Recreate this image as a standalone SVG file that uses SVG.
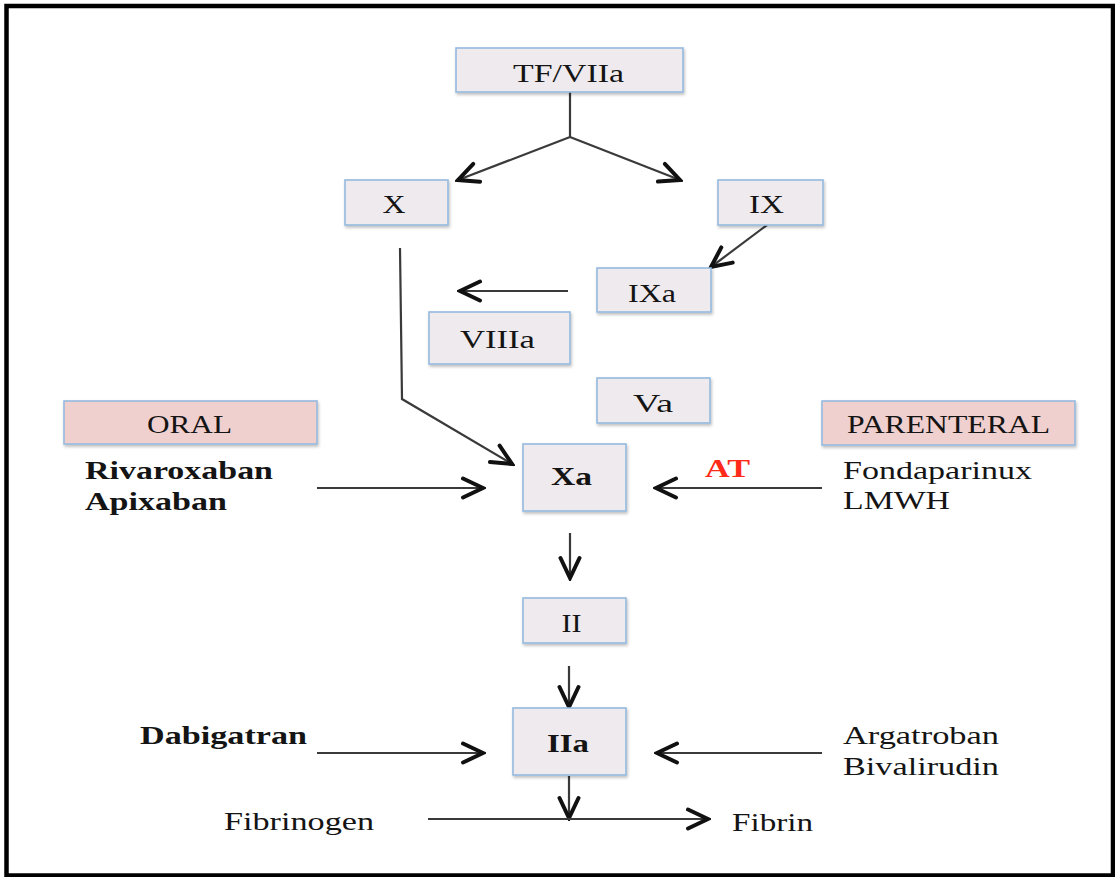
<svg xmlns="http://www.w3.org/2000/svg" width="1115" height="877" viewBox="0 0 1115 877">
<style>
.box{fill:#EEEAEE;stroke:#95BADF;stroke-width:1.6;filter:url(#sh)}
.pink{fill:#F0CFCF;stroke:#95BADF;stroke-width:1.6;filter:url(#sh)}
.t{font-family:"Liberation Serif","Times New Roman",serif;font-size:25px;fill:#141414}
.b{font-weight:bold}
.c{text-anchor:middle}
.ln{fill:none;stroke:#3a3a3a;stroke-width:2.2;marker-end:url(#ah)}
.ln0{fill:none;stroke:#3a3a3a;stroke-width:2.2}
</style>
<defs>
<filter id="sh" x="-10%" y="-10%" width="130%" height="140%">
<feDropShadow dx="1" dy="2" stdDeviation="1.5" flood-color="#000" flood-opacity="0.25"/>
</filter>
<marker id="ah" markerUnits="userSpaceOnUse" viewBox="0 0 26 24" markerWidth="26" markerHeight="24" refX="23" refY="12" orient="auto">
<path d="M3,2.5 L23,12 L3,21.5" fill="none" stroke="#111" stroke-width="4" stroke-linecap="round" stroke-linejoin="miter"/>
</marker>
</defs>
<rect x="6.5" y="6" width="1106.5" height="869.5" fill="#fff" stroke="#000" stroke-width="4.5"/>

<g id="connectors">
<path class="ln0" d="M570,92 L570,137"/>
<path class="ln" d="M570,137 L458,180"/>
<path class="ln" d="M570,137 L680,180"/>
<path class="ln" d="M767,225 L711,267"/>
<path class="ln" d="M568,291 L460,291"/>
<path class="ln" d="M400,248 L402,399 L512,464"/>
<path class="ln" d="M317,488 L483,488"/>
<path class="ln" d="M822,488 L656,488"/>
<path class="ln" d="M570,533 L570,578"/>
<path class="ln" d="M569,666 L569,707"/>
<path class="ln" d="M317,753 L483,753"/>
<path class="ln" d="M822,753 L657,753"/>
<path class="ln" d="M569,776 L569,818"/>
<path class="ln" d="M428,819 L708,819"/>
</g>

<g id="node-tfviia"><rect class="box" x="456" y="48" width="227" height="44"/><text class="t c" x="568.5" y="82" textLength="111" lengthAdjust="spacingAndGlyphs">TF/VIIa</text></g>
<g id="node-x"><rect class="box" x="345" y="180" width="103" height="45"/><text class="t c" x="394" y="213" textLength="23" lengthAdjust="spacingAndGlyphs">X</text></g>
<g id="node-ix"><rect class="box" x="718" y="180" width="105" height="45"/><text class="t c" x="766.5" y="213" textLength="35" lengthAdjust="spacingAndGlyphs">IX</text></g>
<g id="node-ixa"><rect class="box" x="597" y="268" width="114" height="44"/><text class="t c" x="652" y="302" textLength="48" lengthAdjust="spacingAndGlyphs">IXa</text></g>
<g id="node-viiia"><rect class="box" x="429" y="312" width="141" height="52"/><text class="t c" x="497.5" y="348" textLength="75" lengthAdjust="spacingAndGlyphs">VIIIa</text></g>
<g id="node-va"><rect class="box" x="597" y="378" width="113" height="45"/><text class="t c" x="653" y="412" textLength="40" lengthAdjust="spacingAndGlyphs">Va</text></g>
<g id="node-xa"><rect class="box" x="523" y="444" width="103" height="67"/><text class="t b c" x="571.5" y="485" textLength="41" lengthAdjust="spacingAndGlyphs">Xa</text></g>
<g id="node-ii"><rect class="box" x="523" y="598" width="103" height="45"/><text class="t c" x="571.5" y="632" textLength="20" lengthAdjust="spacingAndGlyphs">II</text></g>
<g id="node-iia"><rect class="box" x="513" y="708" width="113" height="67"/><text class="t b c" x="568" y="752" textLength="42" lengthAdjust="spacingAndGlyphs">IIa</text></g>

<g id="node-oral"><rect class="pink" x="64" y="401" width="253" height="43"/><text class="t" x="147" y="433" textLength="85" lengthAdjust="spacingAndGlyphs">ORAL</text></g>
<g id="node-parenteral"><rect class="pink" x="822" y="401" width="253" height="44"/><text class="t" x="847" y="433" textLength="203" lengthAdjust="spacingAndGlyphs">PARENTERAL</text></g>

<g id="label-oral-drugs">
<text class="t b" x="85" y="479" textLength="188" lengthAdjust="spacingAndGlyphs">Rivaroxaban</text>
<text class="t b" x="85" y="510" textLength="142" lengthAdjust="spacingAndGlyphs">Apixaban</text>
</g>
<g id="label-at"><text class="t b" x="705" y="477" textLength="45" lengthAdjust="spacingAndGlyphs" style="fill:#FF2A1A">AT</text></g>
<g id="label-parenteral-drugs">
<text class="t" x="843" y="479" textLength="189" lengthAdjust="spacingAndGlyphs">Fondaparinux</text>
<text class="t" x="843" y="509" textLength="107" lengthAdjust="spacingAndGlyphs">LMWH</text>
</g>
<g id="label-dabigatran"><text class="t b" x="140" y="744" textLength="167" lengthAdjust="spacingAndGlyphs">Dabigatran</text></g>
<g id="label-dti">
<text class="t" x="843" y="744" textLength="156" lengthAdjust="spacingAndGlyphs">Argatroban</text>
<text class="t" x="843" y="775" textLength="156" lengthAdjust="spacingAndGlyphs">Bivalirudin</text>
</g>
<g id="label-fibrinogen"><text class="t" x="224" y="830" textLength="150" lengthAdjust="spacingAndGlyphs">Fibrinogen</text></g>
<g id="label-fibrin"><text class="t" x="732" y="831" textLength="81" lengthAdjust="spacingAndGlyphs">Fibrin</text></g>
</svg>
